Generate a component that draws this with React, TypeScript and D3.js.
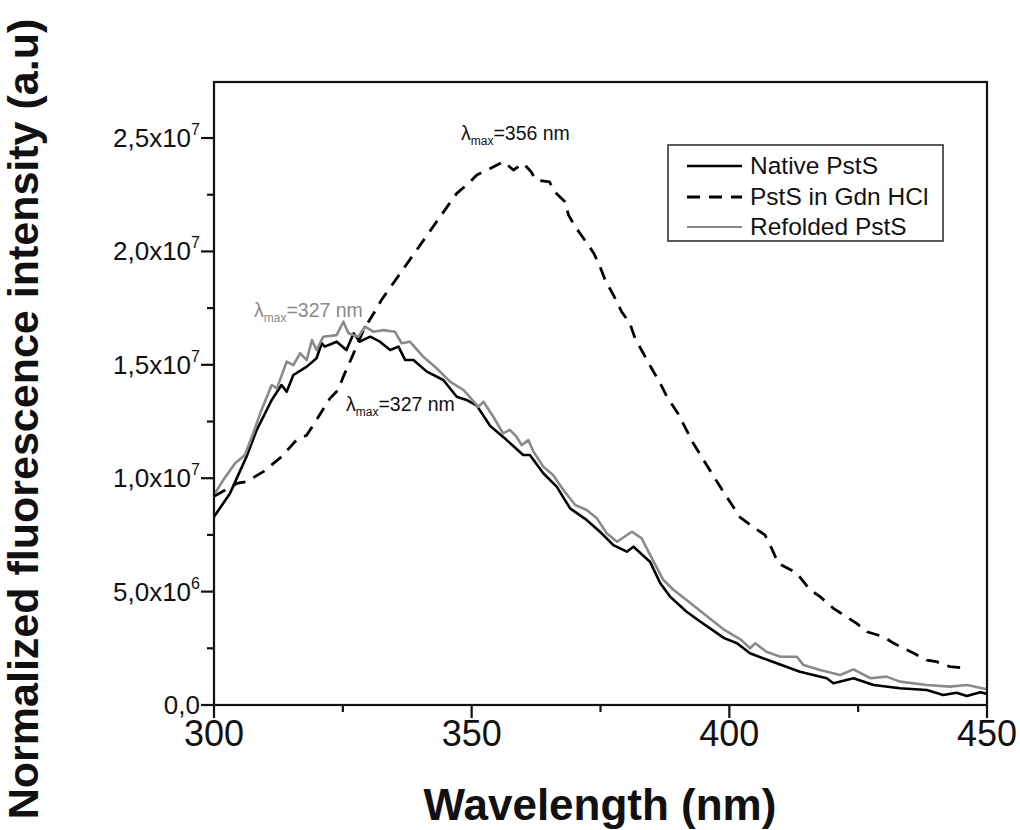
import React from "react";
import * as d3 from "d3";

// Native PstS (wavelength nm, intensity in 1e6 a.u.)
const nativeWl = [300, 303.1, 306.3, 308.3, 311.2, 313.1, 314.1, 315.4, 318, 319.9, 320.9, 321.5, 323.8, 325.7, 327.1, 328.3, 330.3, 332.2, 334.2, 335.8, 337.1, 338.7, 341.3, 344.5, 347.1, 349, 351, 353.6, 356.8, 360, 361.3, 363.9, 366.5, 369.1, 372.3, 374.9, 377.5, 380.1, 381.4, 384.6, 386.6, 388.5, 391.7, 394.4, 399, 401.5, 404, 409.2, 413.7, 418.9, 420.2, 424.1, 428, 433.1, 438.3, 441.5, 444.1, 446.1, 448.7, 450];
const nativeVal = [8.3, 9.33, 10.95, 12.13, 13.45, 14.11, 13.81, 14.55, 14.92, 15.29, 15.95, 15.8, 16.02, 15.65, 16.39, 16.02, 16.24, 16.02, 15.65, 15.8, 15.21, 15.21, 14.7, 14.33, 13.59, 13.45, 13.2, 12.3, 11.68, 11.02, 11.02, 10.22, 9.63, 8.67, 8.16, 7.64, 7.05, 6.76, 6.98, 6.32, 5.37, 4.78, 4.11, 3.67, 2.95, 2.72, 2.28, 1.84, 1.47, 1.18, 0.96, 1.18, 0.88, 0.74, 0.66, 0.44, 0.54, 0.4, 0.56, 0.49];

// PstS in Gdn HCl
const gdnWl = [300, 304.4, 306.3, 309.6, 313.1, 316, 318, 319.9, 322.5, 324.1, 325.1, 327.1, 329, 331, 332.5, 345.5, 347.1, 349.4, 351, 353.6, 356.2, 358.1, 360, 361.5, 362.5, 365.1, 366.1, 368.1, 368.8, 370.1, 371.7, 373.7, 374.9, 375.9, 377.5, 379.1, 380.7, 381.7, 383.3, 384.9, 386.6, 387.9, 390.1, 393, 395, 398.2, 402.1, 405, 406.9, 408.2, 409.5, 413.1, 415.7, 417.6, 420.2, 424.7, 426.7, 429.9, 431.9, 435.8, 438.3, 440.2, 442.8, 445.4];
const gdnVal = [9.2, 9.77, 9.85, 10.29, 10.95, 11.68, 11.9, 12.57, 13.52, 13.89, 14.48, 15.51, 16.53, 17.27, 17.86, 22.05, 22.56, 23.0, 23.37, 23.66, 23.96, 23.59, 23.88, 23.52, 23.15, 23.07, 22.63, 22.19, 21.6, 21.09, 20.58, 19.92, 19.33, 18.74, 18.08, 17.34, 16.83, 16.17, 15.51, 14.85, 14.18, 13.59, 12.83, 11.54, 10.8, 9.63, 8.27, 7.79, 7.5, 6.91, 6.25, 5.81, 5.07, 4.78, 4.26, 3.6, 3.23, 3.01, 2.72, 2.28, 1.98, 1.91, 1.69, 1.64];

// Refolded PstS
const refWl = [300.2, 301.8, 304.1, 306, 307.6, 309.2, 311.2, 312.2, 314.1, 315.4, 316.7, 318, 319, 319.9, 321.2, 323.8, 325.1, 326.1, 328, 329.3, 330.9, 332.9, 335.1, 336.4, 338, 340.6, 343.2, 345.8, 348.4, 351.3, 352.3, 354.2, 356.1, 357.4, 358.7, 359.7, 361, 362, 363.9, 365.8, 367.8, 370.1, 372.3, 374.3, 376.2, 378.2, 381.1, 383, 384.3, 387.2, 389.2, 391.7, 395.6, 398.8, 402.3, 404, 405, 407.2, 409.9, 413.1, 414.4, 417.6, 421.5, 424.1, 427.4, 430.5, 433.1, 438.3, 442.8, 446.1, 450];
const refVal = [9.33, 9.92, 10.66, 11.02, 11.98, 13.0, 14.11, 13.96, 15.14, 14.99, 15.51, 15.21, 16.09, 15.65, 16.24, 16.31, 16.9, 16.39, 16.24, 16.68, 16.46, 16.53, 16.46, 15.95, 16.02, 15.36, 14.85, 14.26, 13.89, 13.15, 13.37, 12.71, 11.98, 12.13, 11.83, 11.46, 11.68, 11.17, 10.51, 10.14, 9.48, 8.82, 8.6, 8.23, 7.57, 7.2, 7.64, 7.35, 6.76, 5.51, 5.07, 4.63, 3.92, 3.35, 2.87, 2.5, 2.72, 2.35, 2.13, 2.13, 1.76, 1.54, 1.32, 1.57, 1.18, 1.25, 1.03, 0.88, 0.81, 0.88, 0.69];

const xTicks = [300, 350, 400, 450];
const xMinor = [325, 375, 425];
const yTicks = [0, 5, 10, 15, 20, 25];
const yMinor = [2.5, 7.5, 12.5, 17.5, 22.5];
const yTickMantissa = ["0,0", "5,0x10", "1,0x10", "1,5x10", "2,0x10", "2,5x10"];
const yTickExp = ["", "6", "7", "7", "7", "7"];
const legendLabels = ["Native PstS", "PstS in Gdn HCl", "Refolded PstS"];

const L = 214, R = 987, T = 82, B = 705;
const GRAY = "#8a8a8a";
const FONT = "'Liberation Sans', Arial, sans-serif";

export default function App() {
  const x = d3.scaleLinear().domain([300, 450]).range([L, R]);
  const y = d3.scaleLinear().domain([0, 27.47]).range([B, T]);
  const mk = (wl: number[], v: number[]) =>
    d3.line<number>().x((_, i) => x(wl[i])).y((d) => y(d))(v) || "";

  const nativePath = mk(nativeWl, nativeVal);
  const gdnPath = mk(gdnWl, gdnVal);
  const refPath = mk(refWl, refVal);

  const legY = [166, 197, 227];

  return (
    <svg width={1020} height={830} style={{ position: "absolute", left: 0, top: 0, background: "#fff" }} fontFamily={FONT}>
      <rect x={0} y={0} width={1020} height={830} fill="#fff" />
      <defs>
        <clipPath id="plot">
          <rect x={L} y={T} width={R - L} height={B - T} />
        </clipPath>
      </defs>
      {/* curves */}
      <g clipPath="url(#plot)" fill="none" strokeLinejoin="round">
        <path d={nativePath} stroke="#000" strokeWidth={2.6} />
        <path d={gdnPath} stroke="#000" strokeWidth={2.8} strokeDasharray="13,9" />
        <path d={refPath} stroke={GRAY} strokeWidth={2.6} />
      </g>
      {/* frame */}
      <rect x={L} y={T} width={R - L} height={B - T} fill="none" stroke="#111" strokeWidth={2.2} />
      {/* x ticks */}
      {xTicks.map((t) => (
        <g key={"xt" + t}>
          <line x1={x(t)} x2={x(t)} y1={B} y2={B + 13} stroke="#111" strokeWidth={2.2} />
          <text x={x(t)} y={746} fontSize={36} textAnchor="middle" fill="#111">{t}</text>
        </g>
      ))}
      {xMinor.map((t) => (
        <line key={"xm" + t} x1={x(t)} x2={x(t)} y1={B} y2={B + 7} stroke="#111" strokeWidth={2.2} />
      ))}
      {/* y ticks */}
      {yTicks.map((t, i) => (
        <g key={"yt" + t}>
          <line x1={L - 13} x2={L} y1={y(t)} y2={y(t)} stroke="#111" strokeWidth={2.2} />
          <text x={200} y={y(t) + 9} fontSize={26} textAnchor="end" fill="#111">
            {yTickMantissa[i]}
            {yTickExp[i] ? (
              <tspan fontSize={16} dy={-12}>{yTickExp[i]}</tspan>
            ) : null}
          </text>
        </g>
      ))}
      {yMinor.map((t) => (
        <line key={"ym" + t} x1={L - 7} x2={L} y1={y(t)} y2={y(t)} stroke="#111" strokeWidth={2.2} />
      ))}
      {/* axis titles */}
      <text x={600} y={820} fontSize={44} fontWeight="bold" textAnchor="middle" fill="#111">Wavelength (nm)</text>
      <text transform={`translate(38, 419) rotate(-90)`} fontSize={43} fontWeight="bold" textAnchor="middle" fill="#111">
        Normalized fluorescence intensity (a.u)
      </text>
      {/* annotations */}
      <text x={461} y={140} fontSize={19.5} fill="#111">
        λ<tspan fontSize={12} dy={5}>max</tspan><tspan dy={-5}>=356 nm</tspan>
      </text>
      <text x={254} y={317} fontSize={19.5} fill={GRAY}>
        λ<tspan fontSize={12} dy={5}>max</tspan><tspan dy={-5}>=327 nm</tspan>
      </text>
      <text x={346} y={411} fontSize={19.5} fill="#111">
        λ<tspan fontSize={12} dy={5}>max</tspan><tspan dy={-5}>=327 nm</tspan>
      </text>
      {/* legend */}
      <rect x={668} y={145} width={275} height={96} fill="#fff" stroke="#333" strokeWidth={1.6} />
      <line x1={687} x2={742} y1={legY[0]} y2={legY[0]} stroke="#000" strokeWidth={2.6} />
      <line x1={687} x2={742} y1={legY[1]} y2={legY[1]} stroke="#000" strokeWidth={2.8} strokeDasharray="13,9" />
      <line x1={687} x2={742} y1={legY[2]} y2={legY[2]} stroke={GRAY} strokeWidth={2} />
      {legendLabels.map((s, i) => (
        <text key={s} x={750} y={legY[i] + 8} fontSize={24.5} fill="#111">{s}</text>
      ))}
    </svg>
  );
}
